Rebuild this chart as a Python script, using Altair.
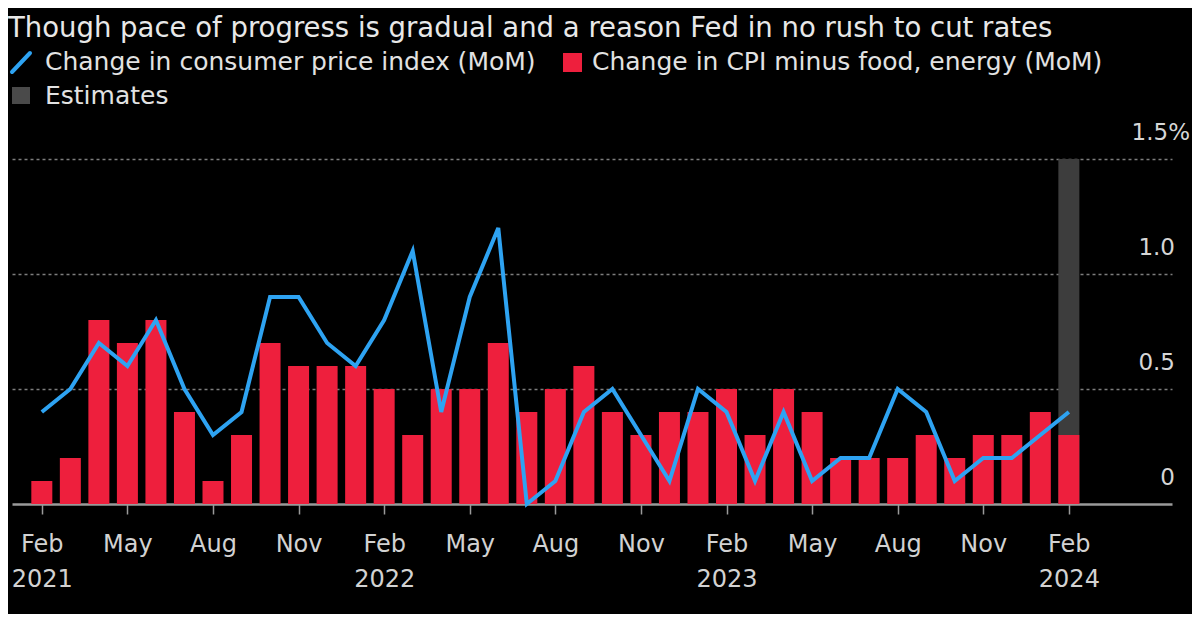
import json
import altair as alt
import pandas as pd

# ---- data ----
months = [
    "2021-02", "2021-03", "2021-04", "2021-05", "2021-06", "2021-07", "2021-08",
    "2021-09", "2021-10", "2021-11", "2021-12", "2022-01", "2022-02", "2022-03",
    "2022-04", "2022-05", "2022-06", "2022-07", "2022-08", "2022-09", "2022-10",
    "2022-11", "2022-12", "2023-01", "2023-02", "2023-03", "2023-04", "2023-05",
    "2023-06", "2023-07", "2023-08", "2023-09", "2023-10", "2023-11", "2023-12",
    "2024-01", "2024-02",
]
cpi_mom = [0.4, 0.5, 0.7, 0.6, 0.8, 0.5, 0.3, 0.4, 0.9, 0.9, 0.7, 0.6, 0.8, 1.1,
           0.4, 0.9, 1.2, 0.0, 0.1, 0.4, 0.5, 0.3, 0.1, 0.5, 0.4, 0.1, 0.4, 0.1,
           0.2, 0.2, 0.5, 0.4, 0.1, 0.2, 0.2, 0.3, 0.4]
core_mom = [0.1, 0.2, 0.8, 0.7, 0.8, 0.4, 0.1, 0.3, 0.7, 0.6, 0.6, 0.6, 0.5, 0.3,
            0.5, 0.5, 0.7, 0.4, 0.5, 0.6, 0.4, 0.3, 0.4, 0.4, 0.5, 0.3, 0.5, 0.4,
            0.2, 0.2, 0.2, 0.3, 0.2, 0.3, 0.3, 0.4, 0.3]
estimate_months = ["2024-02"]
estimate_top = [1.5]

ytick_vals = [0, 0.5, 1.0, 1.5]
ytick_text = ["0", "0.5", "1.0", "1.5%"]

title_text = "Though pace of progress is gradual and a reason Fed in no rush to cut rates"
legend_cpi = "Change in consumer price index (MoM)"
legend_core = "Change in CPI minus food, energy (MoM)"
legend_est = "Estimates"

# ---- style ----
FONT = "DejaVu Sans"
RED = "#ee1f3d"
BLUE = "#2ea3f2"
GREY = "#3d3d3d"
GRID = "#7d7d7d"
TXT = "#e2e2e2"
AX = "#9a9a9a"

W, H = 1160, 345

df = pd.DataFrame({"month": months, "idx": list(range(len(months))),
                   "cpi": cpi_mom, "core": core_mom})
est_df = pd.DataFrame({"idx": [months.index(m) for m in estimate_months],
                       "top": estimate_top})
ytick_df = pd.DataFrame({"v": ytick_vals, "t": ytick_text})

# x tick labels every 3 months, year under February
parts = []
for i, m in enumerate(months):
    if i % 3 == 0:
        ts = pd.Timestamp(m + "-01")
        lab = [ts.strftime("%b"), ts.strftime("%Y")] if ts.month == 2 else [ts.strftime("%b")]
        parts.append((i, lab))
label_expr = "".join(f"datum.value == {i} ? {json.dumps(lab)} : " for i, lab in parts) + "''"

xs = alt.Scale(domain=[-0.87, 39.44], nice=False, zero=False)
ys = alt.Scale(domain=[0, 1.5], nice=False)

xaxis = alt.Axis(values=[i for i, _ in parts], labelExpr=label_expr, title=None,
                 grid=False, domain=True, domainColor=AX, domainWidth=2.5,
                 ticks=True, tickColor=AX, tickSize=10, tickWidth=1.5,
                 labelFont=FONT, labelFontSize=24, labelColor="#d2d2d2",
                 labelPadding=18, labelLineHeight=35, labelOverlap=False,
                 labelFlush=False, labelBound=False)
yaxis = alt.Axis(values=[0.5, 1.0, 1.5], title=None, labels=False, ticks=False,
                 domain=False, grid=True, gridColor=GRID, gridDash=[3, 3],
                 gridWidth=1.5)

est = alt.Chart(est_df).mark_bar(width=21, color=GREY).encode(
    x=alt.X("idx:Q", scale=xs, axis=xaxis),
    y=alt.Y("top:Q", scale=ys, axis=yaxis),
)
bars = alt.Chart(df).mark_bar(width=21, color=RED).encode(
    x=alt.X("idx:Q", scale=xs),
    y=alt.Y("core:Q", scale=ys),
)
line = alt.Chart(df).mark_line(color=BLUE, strokeWidth=4, strokeJoin="miter").encode(
    x=alt.X("idx:Q", scale=xs),
    y=alt.Y("cpi:Q", scale=ys),
)

ylab = alt.Chart(ytick_df).transform_filter("datum.v < 1.5").mark_text(
    font=FONT, fontSize=23, color="#d6d6d6", align="right", baseline="middle", dy=-26
).encode(x=alt.value(1163), y=alt.Y("v:Q", scale=ys), text="t:N")
ylab_top = alt.Chart(ytick_df).transform_filter("datum.v == 1.5").mark_text(
    font=FONT, fontSize=23, color="#d6d6d6", align="right", baseline="middle", dy=-26
).encode(x=alt.value(1178), y=alt.Y("v:Q", scale=ys), text="t:N")


def txt(s, x, y, size, color=TXT, weight="normal"):
    return alt.Chart(pd.DataFrame({"t": [s]})).mark_text(
        font=FONT, fontSize=size, color=color, align="left", baseline="alphabetic",
        fontWeight=weight
    ).encode(x=alt.value(x), y=alt.value(y), text="t:N")


one = pd.DataFrame({"k": [0]})
title = txt(title_text, -4, -122, 27.5, "#e8e8e8")
leg_line = alt.Chart(one).mark_rule(color=BLUE, strokeWidth=4, strokeCap="round").encode(
    x=alt.value(0), x2=alt.value(18), y=alt.value(-87), y2=alt.value(-106))
leg_t1 = txt(legend_cpi, 33, -89, 25)
leg_red = alt.Chart(one).mark_rect(color=RED).encode(
    x=alt.value(551), x2=alt.value(570), y=alt.value(-106), y2=alt.value(-87))
leg_t2 = txt(legend_core, 580, -89, 25)
leg_grey = alt.Chart(one).mark_rect(color="#4a4a4a").encode(
    x=alt.value(0), x2=alt.value(18), y=alt.value(-72), y2=alt.value(-55))
leg_t3 = txt(legend_est, 33, -55, 25)

chart = alt.layer(
    est, bars, line, ylab, ylab_top,
    title, leg_line, leg_t1, leg_red, leg_t2, leg_grey, leg_t3,
).properties(
    width=W, height=H,
    background="#000000",
    autosize=alt.AutoSizeParams(type="none"),
    padding={"left": 4, "top": 151, "right": 20, "bottom": 110},
).configure_view(stroke=None)

chart.save("out.html", embed_options={"renderer": "svg", "actions": False})
